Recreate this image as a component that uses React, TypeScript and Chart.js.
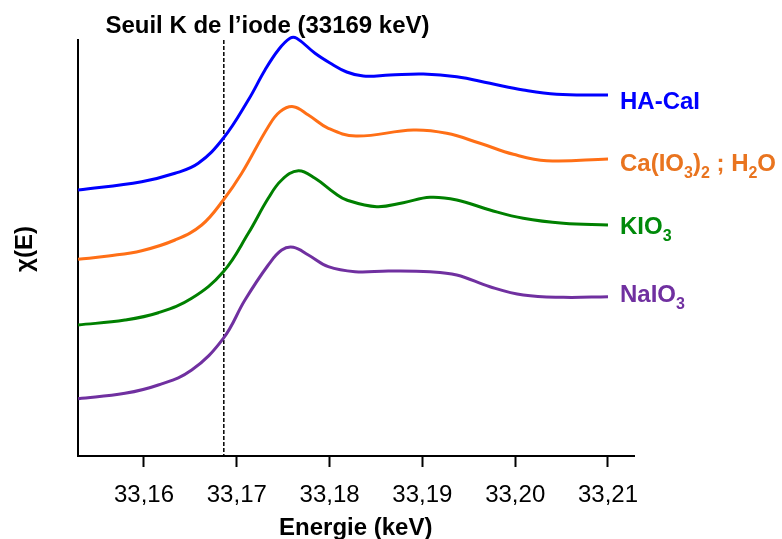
import React, { useEffect, useRef } from "react";
import { Chart, registerables } from "chart.js";

Chart.register(...registerables);

// Energy axis (keV) tick labels
const tickValues = [33.16, 33.17, 33.18, 33.19, 33.2, 33.21];
const kEdgeEnergy = 33.1686;

// HA-CaI
const haCaIEnergy = [33.1529, 33.15975, 33.16334, 33.16585, 33.16855, 33.17124, 33.17304, 33.17447, 33.17573, 33.17645, 33.17843, 33.18004, 33.18184, 33.18363, 33.18651, 33.1901, 33.1937, 33.19728, 33.20087, 33.20447, 33.21];
const haCaIChi = [268, 276.3, 284.7, 294.7, 319.7, 358, 388, 408, 419.7, 419.7, 404.7, 395, 386, 382, 383, 384, 381.3, 374.7, 368, 363.7, 363];

// Ca(IO3)2 ; H2O
const caIO3Energy = [33.1529, 33.15615, 33.15975, 33.16334, 33.16622, 33.16855, 33.17053, 33.17339, 33.17466, 33.17609, 33.17771, 33.17986, 33.18284, 33.18902, 33.19262, 33.19621, 33.1998, 33.20339, 33.21];
const caIO3Chi = [198.7, 202, 207.3, 218, 233, 258, 284.7, 331.3, 346.3, 351.3, 343, 329.7, 322, 328, 324.7, 314.7, 303.7, 297.3, 299];

// KIO3
const kIO3Energy = [33.1529, 33.15795, 33.16154, 33.16514, 33.16855, 33.17124, 33.17339, 33.17484, 33.17663, 33.17843, 33.18058, 33.18184, 33.18508, 33.18794, 33.19082, 33.1937, 33.19728, 33.20087, 33.20518, 33.21];
const kIO3Chi = [133, 138, 145.3, 159.7, 186.3, 224.7, 259.7, 278, 287.3, 279.7, 264.7, 258, 251.3, 255.3, 260.7, 258, 248, 239.7, 234.7, 233];

// NaIO3
const naIO3Energy = [33.1529, 33.15795, 33.16154, 33.16514, 33.16855, 33.17088, 33.17339, 33.17484, 33.17609, 33.17771, 33.17986, 33.18274, 33.18633, 33.19082, 33.1937, 33.19728, 33.20087, 33.20518, 33.21];
const naIO3Chi = [59.3, 64.7, 73, 88, 119.7, 158, 193, 208, 210.7, 203, 191.3, 186.3, 187, 186.3, 183, 171.3, 163, 160.7, 161.3];

const FONT = '"Liberation Sans", Arial, sans-serif';

type Seg = { t: string; sub?: boolean };

const labels: { segs: Seg[]; color: string; baseline: number }[] = [
  { segs: [{ t: "HA-CaI" }], color: "#0000FF", baseline: 109 },
  {
    segs: [{ t: "Ca(IO" }, { t: "3", sub: true }, { t: ")" }, { t: "2", sub: true }, { t: " ; H" }, { t: "2", sub: true }, { t: "O" }],
    color: "#E9741F",
    baseline: 170.5,
  },
  { segs: [{ t: "KIO" }, { t: "3", sub: true }], color: "#008A0A", baseline: 234 },
  { segs: [{ t: "NaIO" }, { t: "3", sub: true }], color: "#7030A0", baseline: 301.5 },
];

const pairs = (xs: number[], ys: number[]) => xs.map((x, i) => ({ x, y: ys[i] }));

const textPlugin = {
  id: "texts",
  beforeDatasetsDraw(chart: any) {
    const { ctx, chartArea, scales } = chart;
    const x = scales.x.getPixelForValue(kEdgeEnergy);
    ctx.save();
    ctx.strokeStyle = "#000";
    ctx.lineWidth = 1.5;
    ctx.setLineDash([4, 2]);
    ctx.beginPath();
    ctx.moveTo(x, chartArea.top);
    ctx.lineTo(x, chartArea.bottom);
    ctx.stroke();
    ctx.restore();
  },
  afterDraw(chart: any) {
    const { ctx, chartArea } = chart;
    ctx.save();
    ctx.fillStyle = "#000";
    ctx.font = `bold 24px ${FONT}`;
    ctx.textBaseline = "alphabetic";
    ctx.textAlign = "center";
    ctx.fillText("Seuil K de l\u2019iode (33169 keV)", 267.5, 33);
    ctx.fillText("Energie (keV)", (chartArea.left + chartArea.right) / 2, 535);
    ctx.save();
    ctx.translate(25, 249);
    ctx.rotate(-Math.PI / 2);
    ctx.textBaseline = "middle";
    ctx.fillText("\u03C7(E)", 0, 0);
    ctx.restore();

    ctx.textAlign = "left";
    for (const lab of labels) {
      let cx = 620;
      ctx.fillStyle = lab.color;
      for (const s of lab.segs) {
        ctx.font = s.sub ? `bold 16px ${FONT}` : `bold 24px ${FONT}`;
        ctx.fillText(s.t, cx, lab.baseline + (s.sub ? 7 : 0));
        cx += ctx.measureText(s.t).width;
      }
    }
    ctx.restore();
  },
};

export default function App() {
  const ref = useRef<HTMLCanvasElement>(null);
  useEffect(() => {
    if (!ref.current) return;
    const common = {
      borderWidth: 3,
      pointRadius: 0,
      tension: 0.4,
      clip: false as any,
      fill: false,
    };
    const chart = new Chart(ref.current, {
      type: "line",
      data: {
        datasets: [
          { ...common, label: "HA-CaI", data: pairs(haCaIEnergy, haCaIChi), borderColor: "#0000FF" },
          { ...common, label: "Ca(IO3)2 ; H2O", data: pairs(caIO3Energy, caIO3Chi), borderColor: "#FF6F16" },
          { ...common, label: "KIO3", data: pairs(kIO3Energy, kIO3Chi), borderColor: "#008000" },
          { ...common, label: "NaIO3", data: pairs(naIO3Energy, naIO3Chi), borderColor: "#7030A0" },
        ],
      },
      options: {
        animation: false,
        responsive: false,
        devicePixelRatio: 1,
        layout: { padding: { left: 77.5, right: 148, top: 40, bottom: 0 } },
        plugins: { legend: { display: false }, tooltip: { enabled: false }, title: { display: false } },
        scales: {
          x: {
            type: "linear",
            min: 33.16 - 66.5 / 9280,
            max: 33.21 + 26 / 9280,
            afterBuildTicks: (scale: any) => {
              scale.ticks = tickValues.map((v) => ({ value: v }));
            },
            afterFit: (scale: any) => {
              scale.height = 83;
            },
            grid: {
              display: true,
              drawOnChartArea: false,
              drawTicks: true,
              tickLength: 11,
              tickWidth: 2,
              tickColor: "#000",
            },
            border: { display: true, color: "#000", width: 2 },
            ticks: {
              color: "#000",
              font: { family: FONT, size: 24 },
              padding: 14,
              maxRotation: 0,
              autoSkip: false,
              callback: (v: any) => Number(v).toFixed(2).replace(".", ","),
            },
          },
          y: {
            type: "linear",
            min: 2,
            max: 418,
            afterFit: (scale: any) => {
              scale.width = 0;
            },
            grid: { display: true, drawOnChartArea: false, drawTicks: false },
            border: { display: true, color: "#000", width: 2 },
            ticks: { display: false },
          },
        },
      },
      plugins: [textPlugin],
    });
    return () => chart.destroy();
  }, []);
  return (
    <div style={{ position: "fixed", left: 0, top: 0, width: 782, height: 539, background: "#fff" }}>
      <canvas ref={ref} width={782} height={539} style={{ display: "block" }} />
    </div>
  );
}
